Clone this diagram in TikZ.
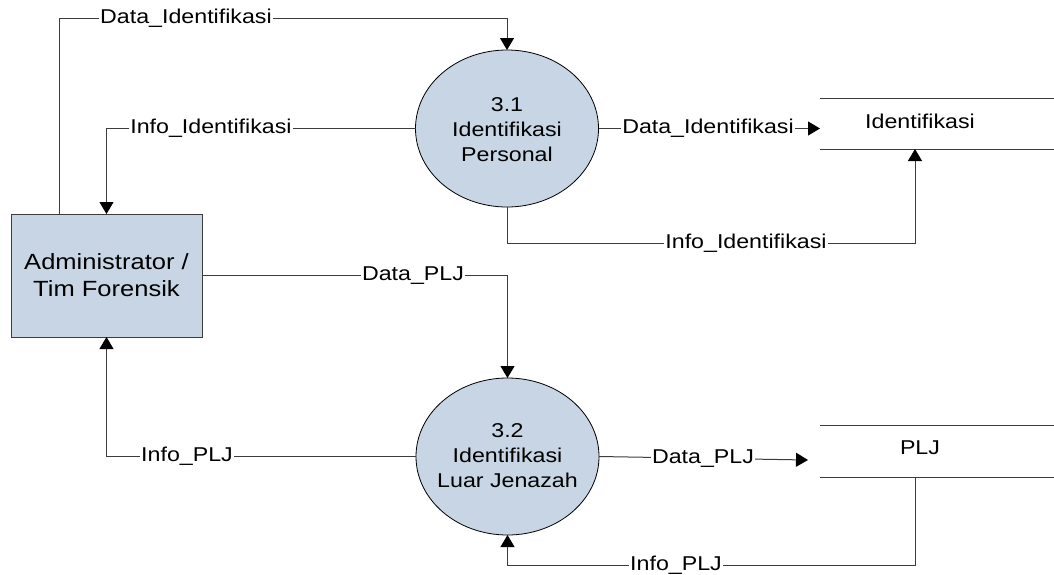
\documentclass[tikz,border=0pt]{standalone}
\usepackage{fontspec}
\setmainfont{Liberation Sans}[FakeStretch=1.16]
\usetikzlibrary{arrows.meta,shapes.geometric}
\definecolor{procfill}{RGB}{200,213,228}
\definecolor{linec}{RGB}{60,60,60}
\begin{document}
\begin{tikzpicture}[x=1pt,y=-1pt,
  every node/.style={inner sep=0pt,outer sep=0pt},
  proc/.style={ellipse,draw=black,line width=0.8pt,fill=procfill,
    minimum width=183pt,minimum height=157pt},
  proctext/.style={align=center,font=\fontsize{20}{25}\selectfont},
  entity/.style={rectangle,draw=linec,line width=1pt,fill=procfill,
    minimum width=191pt,minimum height=123pt,align=center,
    font=\fontsize{22}{27}\selectfont},
  store/.style={rectangle,minimum width=234pt},
  storetext/.style={font=\fontsize{20}{24}\selectfont},
  flow/.style={draw=linec,line width=1pt,
    -{Triangle[length=12pt,width=14pt,color=black]}},
  lbl/.style={fill=white,inner xsep=1.5pt,inner ysep=2pt,
    font=\fontsize{20}{24}\selectfont}]

\useasboundingbox (0,0) rectangle (1054,574);

% processes, external entity and data stores
\node[proc] (p31) at (507,128.5) {};
\node[proctext] (p31t) at (507,129.5) {3.1\\Identifikasi\\Personal};
\node[proc] (p32) at (507.5,456.5) {};
\node[proctext] (p32t) at (507.5,456) {3.2\\Identifikasi\\Luar Jenazah};
\node[entity] (admin) at (106.5,275.5) {Administrator /\\Tim Forensik};

\node[store,minimum height=51pt] (s1) at (937,123.5) {};
\draw[linec,line width=1pt] (s1.north west) -- (s1.north east)
                            (s1.south west) -- (s1.south east);
\node[storetext] (s1t) at (920,121.5) {Identifikasi};
\node[store,minimum height=52pt] (s2) at (937,451) {};
\draw[linec,line width=1pt] (s2.north west) -- (s2.north east)
                            (s2.south west) -- (s2.south east);
\node[storetext] (s2t) at (920,448) {PLJ};

% data flows
\draw[flow] ([xshift=-47.5pt]admin.north) |- ([yshift=32pt]p31.north) -- (p31.north);
\draw[flow] (p31.west) -| (admin.north);
\draw[flow] (p31.east) -- (p31.east -| s1.west);
\draw[flow] (p31.south) |- ([xshift=-22pt,yshift=-94pt]s1.south) -- ([xshift=-22pt]s1.south);
\draw[flow] (admin.east) -| (p32.north);
\draw[flow] (p32.west) -| (admin.south);
\draw[flow] (p32.east) -- ([xshift=-12pt,yshift=-9pt]s2.west);
\draw[flow] ([xshift=-22pt]s2.south) |- ([yshift=-30pt]p32.south) -- (p32.south);

% flow labels
\node[lbl] (l1) at (186,18) {Data\_Identifikasi};
\node[lbl] (l2) at (211,128.5) {Info\_Identifikasi};
\node[lbl] (l3) at (708,128.5) {Data\_Identifikasi};
\node[lbl] (l4) at (746,243) {Info\_Identifikasi};
\node[lbl] (l5) at (413,275.5) {Data\_PLJ};
\node[lbl] (l6) at (187,456.5) {Info\_PLJ};
\node[lbl] (l7) at (703,458.5) {Data\_PLJ};
\node[lbl] (l8) at (676,565) {Info\_PLJ};
\end{tikzpicture}
\end{document}
